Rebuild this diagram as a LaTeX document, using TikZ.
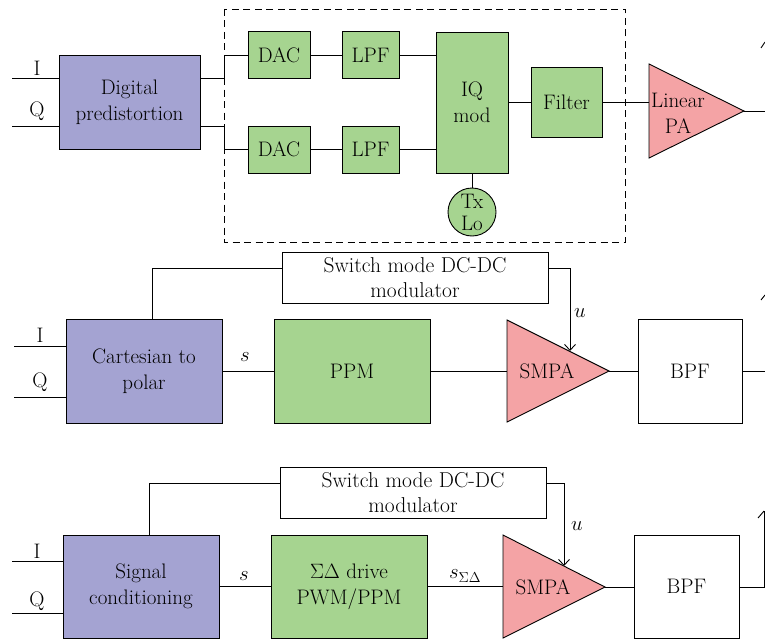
\documentclass[tikz,border=0pt]{standalone}
\usetikzlibrary{arrows.meta,calc}
\definecolor{lav}{HTML}{A4A3D2}
\definecolor{grn}{HTML}{A6D490}
\definecolor{pnk}{HTML}{F4A3A5}
\begin{document}
\begin{tikzpicture}[x=1pt,y=-1pt,line width=0.9pt,
  font=\fontsize{21}{26}\selectfont,
  blk/.style={draw,inner sep=0pt,align=center},
  purp/.style={blk,fill=lav},
  grnb/.style={blk,fill=grn},
  wht/.style={blk,fill=white},
  lab/.style={inner sep=0pt},
  arr/.style={-{Straight Barb[length=6pt,width=11pt]}}]
\useasboundingbox (0,0) rectangle (765,642);

% ---------------- Row 1 ----------------
\draw[dashed,dash pattern=on 7pt off 4.5pt] (224,9) rectangle (625,242);
\node[purp,minimum width=141pt,minimum height=94pt] (pd) at (129.5,102) {Digital\\predistortion};
\node[grnb,minimum width=62pt,minimum height=47pt] (dac1) at (279,55) {DAC};
\node[grnb,minimum width=57pt,minimum height=47pt] (lpf1) at (370.5,55) {LPF};
\node[grnb,minimum width=62pt,minimum height=47pt] (dac2) at (279,149.5) {DAC};
\node[grnb,minimum width=57pt,minimum height=47pt] (lpf2) at (370.5,149.5) {LPF};
\node[grnb,minimum width=72pt,minimum height=141pt] (iq) at (472,102.5) {IQ\\mod};
\node[grnb,circle,minimum size=48pt,font=\fontsize{21}{22}\selectfont] (tx) at (472,212) {Tx\\Lo};
\node[grnb,minimum width=71pt,minimum height=70pt] (flt) at (566.5,102) {Filter};
\coordinate (pa1) at (649,64);
\coordinate (pa2) at (649,158);
\coordinate (pa3) at (744,111);
\draw[fill=pnk] (pa1) -- (pa2) -- (pa3) -- cycle;
\node[lab,align=center] (patxt) at (678,113) {Linear\\PA};

\coordinate (i1) at (12,78);
\coordinate (q1) at (12,126);
\draw (i1) -- (i1 -| pd.west);
\draw (q1) -- (q1 -| pd.west);
\node[lab] (li1) at (37,68) {I};
\node[lab] (lq1) at (37,111) {Q};
\draw ($(pd.east)+(0,-24)$) -- ++(24,0) |- (dac1.west);
\draw ($(pd.east)+(0,24)$) -- ++(24,0) |- (dac2.west);
\draw (dac1) -- (lpf1);
\draw (dac2) -- (lpf2);
\draw (lpf1.east) -- (lpf1.east -| iq.west);
\draw (lpf2.east) -- (lpf2.east -| iq.west);
\draw (iq.south) -- (tx.north);
\draw (iq.east |- flt.west) -- (flt.west);
\draw (flt.east) -- (flt.east -| pa1);
\coordinate (o1) at (765,111);
\draw (pa3) -- (o1);
\coordinate (ant1a) at (761,48);
\coordinate (ant1b) at (765,42);
\draw (ant1a) -- (ant1b);

% ---------------- Row 2 ----------------
\node[wht,minimum width=266pt,minimum height=51pt,font=\fontsize{21.5}{25}\selectfont] (sw1) at (415,277.5) {Switch mode DC-DC\\modulator};
\node[purp,minimum width=156pt,minimum height=104pt] (ctp) at (144,371) {Cartesian to\\polar};
\node[grnb,minimum width=156pt,minimum height=104pt] (ppm) at (352,371) {PPM};
\coordinate (sa1) at (507,320);
\coordinate (sa2) at (507,422);
\coordinate (sa3) at (609,371);
\draw[fill=pnk] (sa1) -- (sa2) -- (sa3) -- cycle;
\node[lab] (smpa1) at (547,371) {SMPA};
\node[wht,minimum width=104pt,minimum height=104pt] (bpf1) at (690,371) {BPF};

\coordinate (i2) at (14,346);
\coordinate (q2) at (14,397);
\draw (i2) -- (i2 -| ctp.west);
\draw (q2) -- (q2 -| ctp.west);
\node[lab] (li2) at (40,335) {I};
\node[lab] (lq2) at (40,382) {Q};
\draw ($(ctp.north)+(8,0)$) |- ($(sw1.west)+(0,-9.5)$);
\coordinate (u1) at (570,351);
\draw[arr] ($(sw1.east)+(0,-9.5)$) -| (u1);
\node[lab] (lu1) at (580,313) {$u$};
\draw (ctp) -- (ppm);
\node[lab] (ls1) at (245,357) {$s$};
\draw (ppm.east) -- (ppm.east -| sa1);
\draw (sa3) -- (bpf1.west);
\coordinate (o2) at (765,371);
\draw (bpf1.east) -- (o2);
\coordinate (ant2a) at (761,300);
\coordinate (ant2b) at (765,295);
\draw (ant2a) -- (ant2b);

% ---------------- Row 3 ----------------
\node[wht,minimum width=266pt,minimum height=51pt,font=\fontsize{21.5}{25}\selectfont] (sw2) at (413,492.5) {Switch mode DC-DC\\modulator};
\node[purp,minimum width=156pt,minimum height=103pt] (sc) at (141,586.5) {Signal\\conditioning};
\node[grnb,minimum width=156pt,minimum height=103pt] (sd) at (349,586.5) {$\Sigma\Delta$ drive\\PWM/PPM};
\coordinate (sb1) at (503,535);
\coordinate (sb2) at (503,638);
\coordinate (sb3) at (605,587);
\draw[fill=pnk] (sb1) -- (sb2) -- (sb3) -- cycle;
\node[lab] (smpa2) at (543,587) {SMPA};
\node[wht,minimum width=105pt,minimum height=103pt] (bpf2) at (686.5,586.5) {BPF};

\coordinate (i3) at (12,561);
\coordinate (q3) at (12,613);
\draw (i3) -- (i3 -| sc.west);
\draw (q3) -- (q3 -| sc.west);
\node[lab] (li3) at (37,551) {I};
\node[lab] (lq3) at (37,601) {Q};
\draw ($(sc.north)+(8,0)$) |- ($(sw2.west)+(0,-9.5)$);
\coordinate (u2) at (564,566);
\draw[arr] ($(sw2.east)+(0,-9.5)$) -| (u2);
\node[lab] (lu2) at (577,526) {$u$};
\draw (sc) -- (sd);
\node[lab] (ls2) at (244,576) {$s$};
\draw (sd.east) -- (sd.east -| sb1);
\node[lab] (ls3) at (465,576) {$s_{\Sigma\Delta}$};
\draw (sb3) -- (sb3 -| bpf2.west);
\coordinate (o3) at (764,587);
\coordinate (o3t) at (764,511);
\draw (bpf2.east |- o3) -- (o3) -- (o3t);
\coordinate (ant3a) at (758,518);
\draw (ant3a) -- (o3t);
\end{tikzpicture}
\end{document}
